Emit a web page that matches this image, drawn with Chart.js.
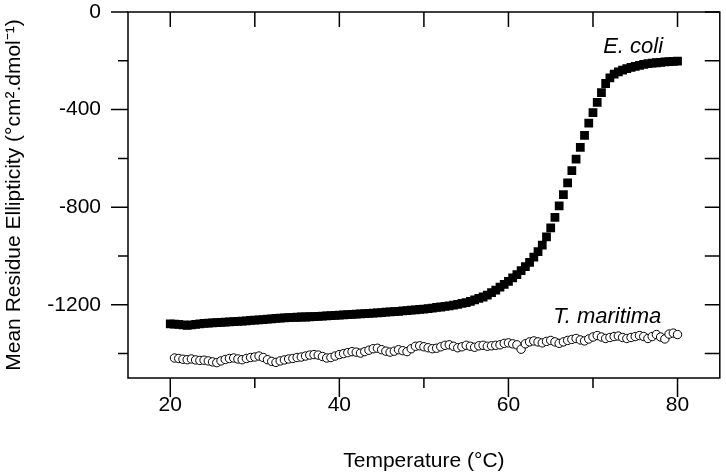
<!DOCTYPE html>
<html>
<head>
<meta charset="utf-8">
<script src="https://cdn.jsdelivr.net/npm/chart.js@4"></script>
<style>
  html, body { margin: 0; padding: 0; background: #fff; }
  #wrap { width: 726px; height: 474px; }
</style>
</head>
<body>
<div id="wrap"><canvas id="myChart" width="726" height="474"></canvas></div>
<script>
// temperature grids (0.5 degC sampling)
const ecoliStart = 20, mariStart = 20.5, stepT = 0.5;

// E. coli ellipticity, 20 .. 80 C
const ecoliValues = [
  -1278, -1279, -1280, -1282, -1284, -1282, -1280, -1278, -1276, -1275,
  -1274, -1273, -1272, -1271, -1270, -1269, -1268, -1267, -1266, -1264,
  -1263, -1262, -1261, -1259, -1258, -1256, -1255, -1254, -1253, -1252,
  -1251, -1250, -1250, -1249, -1248, -1247, -1246, -1245, -1244, -1243,
  -1242, -1241, -1240, -1239, -1238, -1237, -1236, -1235, -1234, -1233,
  -1232, -1230, -1229, -1228, -1227, -1225, -1224, -1222, -1221, -1219,
  -1218, -1216, -1214, -1211, -1209, -1206, -1204, -1201, -1198, -1194,
  -1191, -1186, -1180, -1174, -1168, -1160, -1150, -1140, -1128, -1116,
  -1104, -1090, -1076, -1060, -1044, -1026, -1005, -982, -955, -922,
  -885, -842, -795, -748, -700, -650, -603, -555, -506, -455,
  -412, -370, -330, -293, -270, -255, -245, -238, -232, -227,
  -223, -219, -215, -212, -210, -208, -206, -204, -203, -202,
  -201
];

// T. maritima ellipticity, 20.5 .. 80 C
const mariValues = [
  -1418, -1420, -1423, -1425, -1422, -1426, -1428, -1427, -1430, -1434,
  -1437, -1430, -1424, -1420, -1418, -1422, -1425, -1420, -1416, -1414,
  -1410, -1416, -1425, -1432, -1436, -1430, -1426, -1422, -1420, -1416,
  -1414, -1410, -1406, -1404, -1406, -1412, -1418, -1416, -1410, -1404,
  -1400, -1396, -1392, -1394, -1398, -1392, -1386, -1380, -1378, -1384,
  -1390, -1394, -1390, -1384, -1388, -1392, -1380, -1370, -1368, -1372,
  -1376, -1380, -1378, -1372, -1366, -1364, -1370, -1376, -1372, -1366,
  -1370, -1374, -1368, -1366, -1370, -1368, -1366, -1364, -1358, -1356,
  -1360, -1364, -1382, -1360, -1352, -1348, -1352, -1356, -1350, -1346,
  -1352, -1358, -1352, -1346, -1342, -1338, -1344, -1348, -1340, -1332,
  -1326, -1332, -1338, -1334, -1330, -1328, -1334, -1338, -1334, -1330,
  -1326, -1330, -1338, -1330, -1322, -1332, -1340, -1320, -1316, -1322
];

const xTickValues = [20, 30, 40, 50, 60, 70, 80];
const yTickValues = [-1400, -1200, -1000, -800, -600, -400, -200, 0];

const ecoliPts = ecoliValues.map((v, i) => ({ x: ecoliStart + i * stepT, y: v }));
const mariPts = mariValues.map((v, i) => ({ x: mariStart + i * stepT, y: v }));

const FONT = "'Liberation Sans', Arial, sans-serif";

const framePlugin = {
  id: 'frame',
  afterDraw(chart) {
    const ctx = chart.ctx;
    const { left, right, top, bottom } = chart.chartArea;
    const xs = chart.scales.x, ys = chart.scales.y;
    ctx.save();
    ctx.strokeStyle = '#000';
    ctx.lineWidth = 1.5;
    ctx.strokeRect(left, top, right - left, bottom - top);
    ctx.beginPath();
    xTickValues.forEach(v => {
      const px = xs.getPixelForValue(v);
      const major = v % 20 === 0;
      ctx.moveTo(px, bottom); ctx.lineTo(px, bottom + (major ? 19 : 10));
      ctx.moveTo(px, top); ctx.lineTo(px, top + 15);
    });
    yTickValues.forEach(v => {
      const py = ys.getPixelForValue(v);
      const major = v % 400 === 0;
      ctx.moveTo(left, py); ctx.lineTo(left - (major ? 17 : 10), py);
      ctx.moveTo(right, py); ctx.lineTo(right - 15, py);
    });
    ctx.stroke();
    // series labels
    ctx.fillStyle = '#000';
    ctx.font = 'italic 22px ' + FONT;
    ctx.textBaseline = 'alphabetic';
    ctx.fillText('E. coli', xs.getPixelForValue(71.2), ys.getPixelForValue(-168));
    ctx.fillText('T. maritima', xs.getPixelForValue(65.3), ys.getPixelForValue(-1273));
    ctx.restore();
  }
};

const myChart = new Chart(document.getElementById('myChart').getContext('2d'), {
  type: 'scatter',
  data: {
    datasets: [
      {
        label: 'E. coli',
        data: ecoliPts,
        pointStyle: 'rect',
        pointRadius: 6.2,
        backgroundColor: '#000',
        borderColor: '#000',
        borderWidth: 0
      },
      {
        label: 'T. maritima',
        data: mariPts,
        pointStyle: 'circle',
        pointRadius: 4.2,
        backgroundColor: '#fff',
        borderColor: '#000',
        borderWidth: 1
      }
    ]
  },
  options: {
    responsive: false,
    animation: false,
    layout: { padding: { top: 12, right: 2, left: 0, bottom: 0 } },
    plugins: { legend: { display: false }, tooltip: { enabled: false } },
    scales: {
      x: {
        type: 'linear',
        min: 15,
        max: 85,
        afterBuildTicks: s => { s.ticks = xTickValues.map(v => ({ value: v })); },
        afterFit: s => { s.height = 96; s.paddingLeft = 0; s.paddingRight = 0; },
        grid: { display: false, drawTicks: false },
        border: { display: false },
        ticks: {
          color: '#000',
          padding: 15,
          maxRotation: 0,
          font: { family: FONT, size: 21 },
          callback: v => (v % 20 === 0 ? v : '')
        },
        title: {
          display: true,
          text: 'Temperature (°C)',
          color: '#000',
          font: { family: FONT, size: 21 },
          padding: { top: 18, bottom: 0 }
        }
      },
      y: {
        type: 'linear',
        min: -1500,
        max: 0,
        afterBuildTicks: s => { s.ticks = yTickValues.map(v => ({ value: v })); },
        afterFit: s => { s.width = 128; s.paddingTop = 0; s.paddingBottom = 0; },
        grid: { display: false, drawTicks: false },
        border: { display: false },
        ticks: {
          color: '#000',
          padding: 27,
          font: { family: FONT, size: 21 },
          callback: v => (v % 400 === 0 ? v : '')
        },
        title: {
          display: true,
          text: 'Mean Residue Ellipticity (°cm².dmol⁻¹)',
          color: '#000',
          font: { family: FONT, size: 21 },
          padding: { top: 2, bottom: 0 }
        }
      }
    }
  },
  plugins: [framePlugin]
});
</script>
</body>
</html>
